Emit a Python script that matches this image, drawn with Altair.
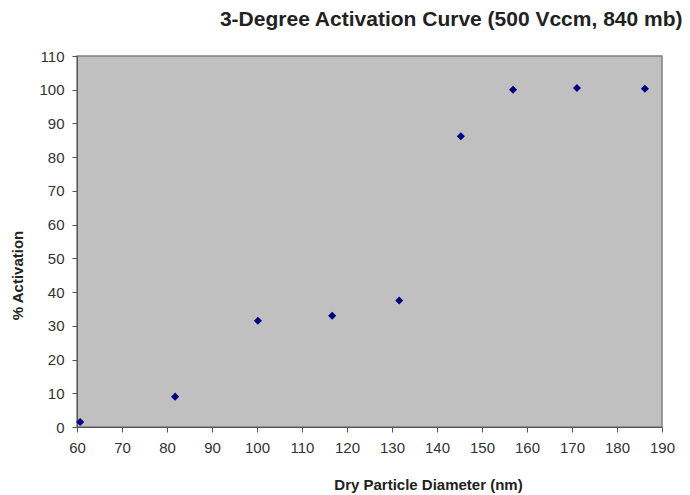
import altair as alt
import pandas as pd

diameter = [60.7, 81.8, 100.2, 116.7, 131.6, 145.3, 156.9, 171.1, 186.2]
activation = [1.5, 9.0, 31.5, 33.0, 37.5, 86.2, 100.0, 100.5, 100.3]

df = pd.DataFrame({"d": diameter, "a": activation})

x_ticks = list(range(60, 191, 10))
y_ticks = list(range(0, 111, 10))

points = alt.Chart(df).mark_point(
    shape="diamond", filled=True, color="#000080", size=65, opacity=1
).encode(
    x=alt.X("d:Q", scale=alt.Scale(domain=[60, 190], nice=False, zero=False),
            axis=alt.Axis(values=x_ticks, title="Dry Particle Diameter (nm)",
                          titleX=351, titleY=50, labelPadding=8,
                          labelFlush=False, labelOverlap=False, grid=False)),
    y=alt.Y("a:Q", scale=alt.Scale(domain=[0, 110], nice=False),
            axis=alt.Axis(values=y_ticks, title="% Activation",
                          titleX=-52, titleY=219, labelPadding=8,
                          labelFlush=False, labelOverlap=False, grid=False)),
)

chart = points.properties(
    width=585, height=371,
    autosize="none",
    padding={"left": 69, "top": 48, "right": 20, "bottom": 68},
    title=alt.Title("3-Degree Activation Curve (500 Vccm, 840 mb)",
                    anchor="end", dx=8, offset=19, fontSize=21,
                    font="Liberation Sans", fontWeight="bold", color="#222222"),
).configure_view(
    fill="#C0C0C0", stroke="#808080", strokeWidth=1.5
).configure_axis(
    labelFont="Liberation Sans", labelFontSize=15, labelColor="#333333",
    titleFont="Liberation Sans", titleFontSize=15, titleFontWeight="bold",
    titleColor="#222222", domainColor="#555555", tickColor="#555555",
    tickSize=5
)

chart.save("out.html", embed_options={"renderer": "svg", "actions": False})
